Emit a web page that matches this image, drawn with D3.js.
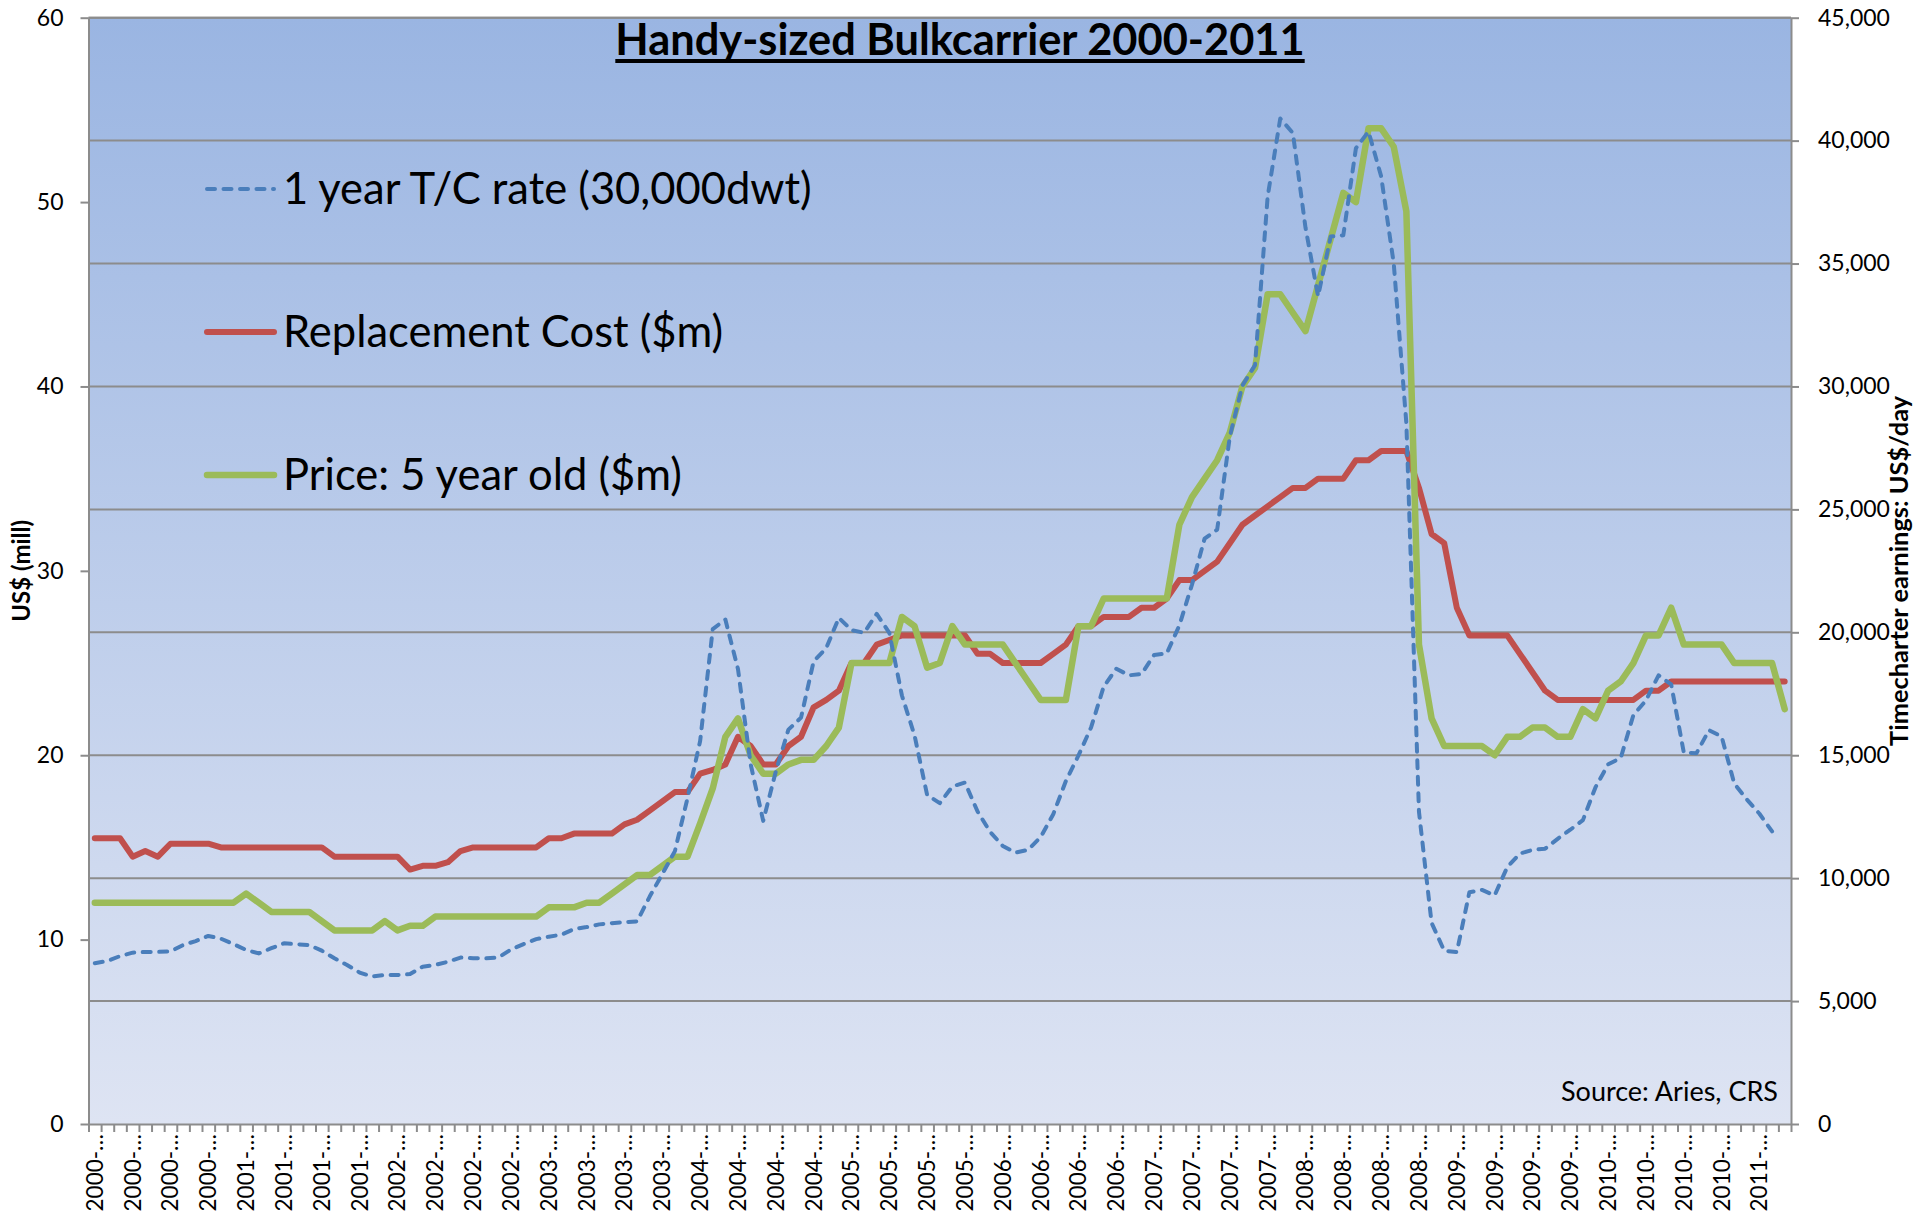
<!DOCTYPE html>
<html>
<head>
<meta charset="utf-8">
<title>Handy-sized Bulkcarrier 2000-2011</title>
<script src="https://cdn.jsdelivr.net/npm/d3@7"></script>
<style>
    body { margin: 0; background: #fff; }
    text { font-family: Lato, "Open Sans", sans-serif; fill: #000; }
    .axis path, .axis line { stroke: #8c8c8c; stroke-width: 2; }
    .grid line { stroke: #8c8c8c; stroke-width: 2; }
</style>
</head>
<body>
<script>
// monthly categories, Jan 2000 .. Mar 2011
var months = [];
for (var yr = 2000; yr <= 2011; yr++) {
    for (var mo = 1; mo <= 12; mo++) {
        if (yr == 2011 && mo > 3) break;
        months.push(yr + "-" + (mo < 10 ? "0" + mo : mo));
    }
}

// 1 year T/C rate (30,000dwt), US$/day (right axis)
var tcRate = [
    6540, 6630, 6830, 6970, 7000, 7000, 7020, 7280, 7440, 7650, 7540, 7320,
    7080, 6940, 7150, 7350, 7310, 7280, 7050, 6740, 6470, 6160, 6000, 6060,
    6060, 6100, 6400, 6470, 6600, 6770, 6740, 6740, 6770, 7100, 7320, 7520,
    7620, 7700, 7930, 8010, 8120, 8170, 8210, 8240, 9250, 10170, 11100, 13260,
    15580, 20130, 20520, 18510, 14650, 12330, 14340, 16040, 16530, 18820, 19360, 20590,
    20090, 19980, 20750, 19980, 17430, 15810, 13380, 13050, 13730, 13890, 12710, 11880,
    11310, 11040, 11150, 11670, 12600, 13950, 14990, 16130, 17790, 18520, 18250, 18300,
    19080, 19140, 20280, 21940, 23810, 24180, 27960, 30040, 30870, 37720, 40900, 40310,
    36470, 33670, 36100, 36150, 39690, 40370, 38550, 35000, 28500, 12700, 8180, 7050,
    6990, 9430, 9520, 9300, 10450, 11000, 11150, 11200, 11600, 11970, 12360, 13700,
    14630, 14890, 16630, 17230, 18250, 17880, 15110, 15080, 16020, 15760, 13850, 13200,
    12620, 11900, null
];

// Replacement Cost ($m), left axis
var replCost = [
    15.5, 15.5, 15.5, 14.5, 14.8, 14.5, 15.2, 15.2, 15.2, 15.2, 15.0, 15.0,
    15.0, 15.0, 15.0, 15.0, 15.0, 15.0, 15.0, 14.5, 14.5, 14.5, 14.5, 14.5,
    14.5, 13.8, 14.0, 14.0, 14.2, 14.8, 15.0, 15.0, 15.0, 15.0, 15.0, 15.0,
    15.5, 15.5, 15.75, 15.75, 15.75, 15.75, 16.25, 16.5, 17.0, 17.5, 18.0, 18.0,
    19.0, 19.2, 19.5, 21.0, 20.5, 19.5, 19.5, 20.5, 21.0, 22.6, 23.0, 23.5,
    25.0, 25.0, 26.0, 26.25, 26.5, 26.5, 26.5, 26.5, 26.5, 26.5, 25.5, 25.5,
    25.0, 25.0, 25.0, 25.0, 25.5, 26.0, 27.0, 27.0, 27.5, 27.5, 27.5, 28.0,
    28.0, 28.5, 29.5, 29.5, 30.0, 30.5, 31.5, 32.5, 33.0, 33.5, 34.0, 34.5,
    34.5, 35.0, 35.0, 35.0, 36.0, 36.0, 36.5, 36.5, 36.5, 34.5, 32.0, 31.5,
    28.0, 26.5, 26.5, 26.5, 26.5, 25.5, 24.5, 23.5, 23.0, 23.0, 23.0, 23.0,
    23.0, 23.0, 23.0, 23.5, 23.5, 24.0, 24.0, 24.0, 24.0, 24.0, 24.0, 24.0,
    24.0, 24.0, 24.0
];

// Price: 5 year old ($m), left axis
var price5yr = [
    12.0, 12.0, 12.0, 12.0, 12.0, 12.0, 12.0, 12.0, 12.0, 12.0, 12.0, 12.0,
    12.5, 12.0, 11.5, 11.5, 11.5, 11.5, 11.0, 10.5, 10.5, 10.5, 10.5, 11.0,
    10.5, 10.75, 10.75, 11.25, 11.25, 11.25, 11.25, 11.25, 11.25, 11.25, 11.25, 11.25,
    11.75, 11.75, 11.75, 12.0, 12.0, 12.5, 13.0, 13.5, 13.5, 14.0, 14.5, 14.5,
    16.3, 18.2, 21.0, 22.0, 20.0, 19.0, 19.0, 19.5, 19.75, 19.75, 20.5, 21.5,
    25.0, 25.0, 25.0, 25.0, 27.5, 27.0, 24.75, 25.0, 27.0, 26.0, 26.0, 26.0,
    26.0, 25.0, 24.0, 23.0, 23.0, 23.0, 27.0, 27.0, 28.5, 28.5, 28.5, 28.5,
    28.5, 28.5, 32.5, 34.0, 35.0, 36.0, 37.5, 40.0, 41.0, 45.0, 45.0, 44.0,
    43.0, 45.5, 48.0, 50.5, 50.0, 54.0, 54.0, 53.0, 49.5, 26.0, 22.0, 20.5,
    20.5, 20.5, 20.5, 20.0, 21.0, 21.0, 21.5, 21.5, 21.0, 21.0, 22.5, 22.0,
    23.5, 24.0, 25.0, 26.5, 26.5, 28.0, 26.0, 26.0, 26.0, 26.0, 25.0, 25.0,
    25.0, 25.0, 22.5
];

var leftTicks = [0, 10, 20, 30, 40, 50, 60];
var rightTicks = [0, 5000, 10000, 15000, 20000, 25000, 30000, 35000, 40000, 45000];
var legendNames = ["1 year T/C rate (30,000dwt)", "Replacement Cost ($m)", "Price: 5 year old ($m)"];

var width = 1920, height = 1214;
var plotLeft = 88.5, plotRight = 1791, plotTop = 17.7, plotBottom = 1124;

var svg = d3.select("body").append("svg")
    .attr("width", width)
    .attr("height", height);

var x = d3.scaleBand().domain(months).range([plotLeft, plotRight]).padding(0);
var xEdge = d3.scaleLinear().domain([0, months.length]).range([plotLeft, plotRight]);
var yL = d3.scaleLinear().domain([0, 60]).range([plotBottom, plotTop]);
var yR = d3.scaleLinear().domain([0, 45000]).range([plotBottom, plotTop]);

// plot background gradient
var grad = svg.append("defs").append("linearGradient")
    .attr("id", "bg").attr("x1", 0).attr("y1", 0).attr("x2", 0).attr("y2", 1);
grad.append("stop").attr("offset", "0%").attr("stop-color", "#9ab5e2");
grad.append("stop").attr("offset", "100%").attr("stop-color", "#dee4f3");
svg.append("rect")
    .attr("x", plotLeft).attr("y", plotTop)
    .attr("width", plotRight - plotLeft).attr("height", plotBottom - plotTop)
    .attr("fill", "url(#bg)");

// gridlines from the secondary axis
svg.append("g").attr("class", "grid")
    .selectAll("line")
    .data(rightTicks.slice(1))
    .enter().append("line")
    .attr("x1", plotLeft).attr("x2", plotRight)
    .attr("y1", function(d) { return yR(d); })
    .attr("y2", function(d) { return yR(d); });

// axes
svg.append("g").attr("class", "axis")
    .attr("transform", "translate(" + plotLeft + ",0)")
    .call(d3.axisLeft(yL).tickValues(leftTicks).tickSize(8).tickPadding(17).tickSizeOuter(0))
    .selectAll("text").style("font-size", "23px");

svg.append("g").attr("class", "axis")
    .attr("transform", "translate(" + plotRight + ",0)")
    .call(d3.axisRight(yR).tickValues(rightTicks).tickSize(8).tickPadding(19).tickSizeOuter(0)
        .tickFormat(d3.format(",")))
    .selectAll("text").style("font-size", "23px");

svg.append("g").attr("class", "axis")
    .attr("transform", "translate(0," + plotBottom + ")")
    .call(d3.axisBottom(xEdge).tickValues(d3.range(months.length + 1)).tickSize(8)
        .tickSizeOuter(0).tickFormat(""));

var xLab = svg.append("g").attr("class", "axis")
    .attr("transform", "translate(0," + plotBottom + ")")
    .call(d3.axisBottom(x)
        .tickValues(months.filter(function(d, i) { return i % 3 == 0; }))
        .tickSize(0).tickSizeOuter(0)
        .tickFormat(function(d) { return d.slice(0, 5) + "\u2026"; }));
xLab.select(".domain").remove();
xLab.selectAll("text")
    .style("font-size", "22.5px")
    .attr("text-anchor", "end")
    .attr("transform", "rotate(-90)")
    .attr("x", -10)
    .attr("y", 8)
    .attr("dy", 0);

// top border
svg.append("line")
    .attr("x1", plotLeft).attr("x2", plotRight)
    .attr("y1", plotTop).attr("y2", plotTop)
    .attr("stroke", "#8c8c8c").attr("stroke-width", 2);

// series
var cx = function(i) { return x(months[i]) + x.bandwidth() / 2; };

svg.append("path")
    .datum(replCost)
    .attr("fill", "none")
    .attr("stroke", "#c0504d")
    .attr("stroke-width", 6)
    .attr("stroke-linejoin", "round")
    .attr("stroke-linecap", "round")
    .attr("d", d3.line().x(function(d, i) { return cx(i); }).y(function(d) { return yL(d); }));

svg.append("path")
    .datum(price5yr)
    .attr("fill", "none")
    .attr("stroke", "#9bbb59")
    .attr("stroke-width", 6.5)
    .attr("stroke-linejoin", "round")
    .attr("stroke-linecap", "round")
    .attr("d", d3.line().x(function(d, i) { return cx(i); }).y(function(d) { return yL(d); }));

svg.append("path")
    .datum(tcRate)
    .attr("fill", "none")
    .attr("stroke", "#4a7ebb")
    .attr("stroke-width", 4)
    .attr("stroke-dasharray", "8,8.5")
    .attr("stroke-linejoin", "round")
    .attr("stroke-linecap", "round")
    .attr("d", d3.line()
        .defined(function(d) { return d != null; })
        .x(function(d, i) { return cx(i); })
        .y(function(d) { return yR(d); }));

// title
var title = svg.append("text")
    .attr("x", 960).attr("y", 55)
    .attr("text-anchor", "middle")
    .style("font-size", "43.4px")
    .style("font-weight", "bold")
    .text("Handy-sized Bulkcarrier 2000-2011");
var tw = title.node().getComputedTextLength();
svg.append("rect")
    .attr("x", 960 - tw / 2).attr("y", 59)
    .attr("width", tw).attr("height", 4)
    .attr("fill", "#000");

// legend
var legendStyle = [
    { color: "#4a7ebb", w: 4, dash: "8,8.5" },
    { color: "#c0504d", w: 6, dash: null },
    { color: "#9bbb59", w: 6.5, dash: null }
];
var legendY = [189, 332, 475];
var legend = svg.selectAll(".legend")
    .data(legendNames)
    .enter().append("g")
    .attr("class", "legend")
    .attr("transform", function(d, i) { return "translate(0," + legendY[i] + ")"; });
legend.append("line")
    .attr("x1", 207).attr("x2", 274)
    .attr("stroke", function(d, i) { return legendStyle[i].color; })
    .attr("stroke-width", function(d, i) { return legendStyle[i].w; })
    .attr("stroke-dasharray", function(d, i) { return legendStyle[i].dash; })
    .attr("stroke-linecap", "round");
legend.append("text")
    .attr("x", 283).attr("y", 15)
    .style("font-size", "43.5px")
    .text(function(d) { return d; });

// source note
svg.append("text")
    .attr("x", 1778).attr("y", 1101)
    .attr("text-anchor", "end")
    .style("font-size", "27px")
    .text("Source: Aries, CRS");

// axis titles
svg.append("text")
    .attr("transform", "translate(30," + ((plotTop + plotBottom) / 2) + ") rotate(-90)")
    .attr("text-anchor", "middle")
    .style("font-size", "24px")
    .style("font-weight", "bold")
    .text("US$ (mill)");

svg.append("text")
    .attr("transform", "translate(1908," + ((plotTop + plotBottom) / 2) + ") rotate(-90)")
    .attr("text-anchor", "middle")
    .style("font-size", "25.4px")
    .style("font-weight", "bold")
    .text("Timecharter earnings: US$/day");
</script>
</body>
</html>
